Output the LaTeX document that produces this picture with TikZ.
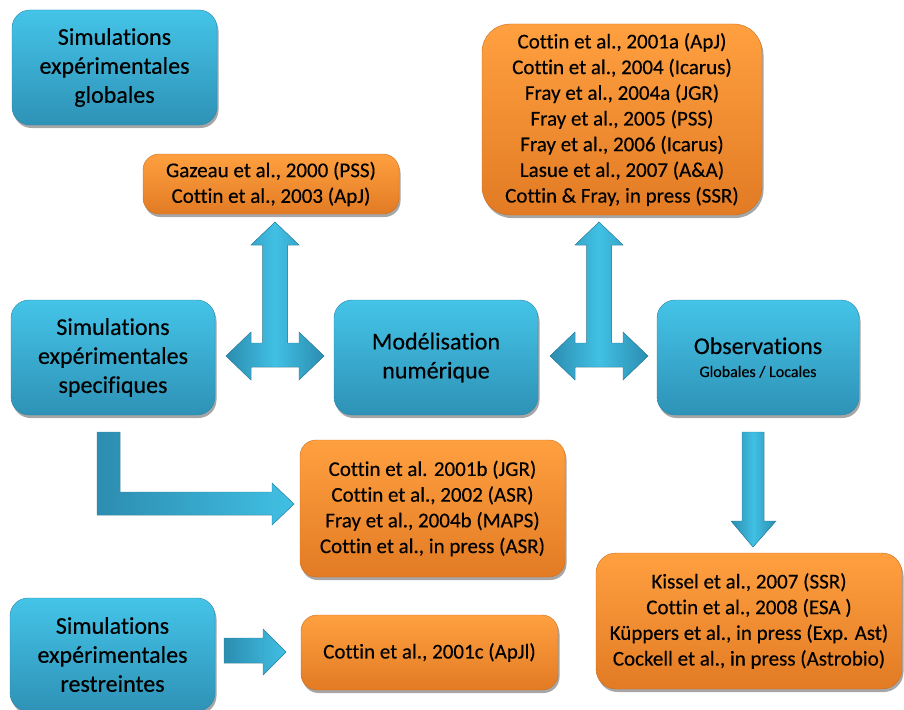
\documentclass[tikz,border=0pt]{standalone}
\usepackage{fontspec}
\setmainfont{Carlito}[FakeBold=0.3, Ligatures={NoCommon}]
\usetikzlibrary{shadows}

\definecolor{bluetop}{HTML}{44C4E8}
\definecolor{bluemid}{HTML}{38B0D6}
\definecolor{bluebot}{HTML}{2E92B6}
\definecolor{bluedge}{HTML}{2A86A8}
\definecolor{orangetop}{HTML}{FFA040}
\definecolor{orangemid}{HTML}{F99431}
\definecolor{orangebot}{HTML}{E27B24}
\definecolor{orangedge}{HTML}{CC6E1E}
\definecolor{arrowlight}{HTML}{40C0E4}
\definecolor{arrowdark}{HTML}{2C8DB0}

\begin{document}
\begin{tikzpicture}[x=1pt,y=-1pt,
  boxshadow/.style={drop shadow={shadow xshift=1.5pt,shadow yshift=-3pt,opacity=.35,fill=black}},
  bluebox/.style={rectangle, rounded corners=18pt, top color=bluetop, middle color=bluemid,
    bottom color=bluebot, draw=bluedge, line width=0.4pt, align=center, inner sep=0pt,
    text=black, font=\fontsize{24}{29}\selectfont, boxshadow},
  orangebox/.style={rectangle, rounded corners=16pt, top color=orangetop, middle color=orangemid,
    bottom color=orangebot, draw=orangedge, line width=0.4pt, align=center, inner sep=0pt,
    text=black, font=\fontsize{21}{25.7}\selectfont, boxshadow},
  blockarrow/.style={draw=bluedge, line width=0.4pt, line join=miter},
  varrow/.style={blockarrow, left color=arrowdark, right color=arrowdark, middle color=arrowlight},
  harrow/.style={blockarrow, left color=arrowdark, right color=arrowlight},
]
\useasboundingbox (0,0) rectangle (904,709);

% blue boxes: the research approaches
\node[bluebox, minimum width=205pt, minimum height=115pt] (glob) at (114.5,67.5)
  {Simulations\\expérimentales\\globales};
\node[bluebox, minimum width=204pt, minimum height=115pt] (spec) at (113,357.5)
  {Simulations\\expérimentales\\specifiques};
\node[bluebox, minimum width=204pt, minimum height=115pt] (model) at (436,357.5)
  {Modélisation\\numérique};
\node[bluebox, minimum width=202pt, minimum height=115pt] (obs) at (758,357.5)
  {Observations\\[-6pt]{\fontsize{16}{18}\selectfont Globales / Locales}};
\node[bluebox, minimum width=205pt, minimum height=113pt] (restr) at (112.5,654.5)
  {Simulations\\expérimentales\\restreintes};

% orange boxes: the publications
\node[orangebox, minimum width=256pt, minimum height=60pt] (gaz) at (271,184)
  {Gazeau et al., 2000 (PSS)\\Cottin et al., 2003 (ApJ)};
\node[orangebox, rounded corners=28pt, minimum width=280pt, minimum height=191pt] (obsref) at (622,119.5)
  {Cottin et al., 2001a (ApJ)\\Cottin et al., 2004 (Icarus)\\Fray et al., 2004a (JGR)\\Fray et al., 2005 (PSS)\\Fray et al., 2006 (Icarus)\\Lasue et al., 2007 (A\&A)\\Cottin \& Fray, in press (SSR)};
\node[orangebox, minimum width=265pt, minimum height=137pt] (specref) at (432.5,508.5)
  {Cottin et al. 2001b (JGR)\\Cottin et al., 2002 (ASR)\\Fray et al., 2004b (MAPS)\\Cottin et al., in press (ASR)};
\node[orangebox, minimum width=257pt, minimum height=75pt] (restrref) at (429.5,652.5)
  {Cottin et al., 2001c (ApJl)};
\node[orangebox, rounded corners=20pt, minimum width=306pt, minimum height=136pt] (kis) at (749,621)
  {Kissel et al., 2007 (SSR)\\Cottin et al., 2008 (ESA )\\Küppers et al., in press (Exp. Ast)\\Cockell et al., in press (Astrobio)};

% T-shaped block arrows (up + left/right)
\foreach \cx in {275,599}{
  \fill[varrow, shift={(\cx,0)}]
    (0,222) -- (24,245) -- (12.5,245) -- (12.5,343) -- (24,343) -- (24,332) -- (49,356)
    -- (24,380) -- (24,367) -- (-24,367) -- (-24,380) -- (-49,356) -- (-24,332)
    -- (-24,343) -- (-12.5,343) -- (-12.5,245) -- (-24,245) -- cycle;
}

% down arrow from the observations
\fill[varrow] (742,432) -- (764,432) -- (764,521) -- (776,521) -- (753,547)
  -- (731,521) -- (742,521) -- cycle;

% L-shaped arrow from the specific simulations
\fill[harrow] (97,432) -- (120,432) -- (120,492) -- (272,492) -- (272,483)
  -- (294,504) -- (272,525) -- (272,515) -- (97,515) -- cycle;

% small arrow from the restricted simulations
\fill[harrow] (224,638) -- (263,638) -- (263,629) -- (286,652) -- (263,675)
  -- (263,663) -- (224,663) -- cycle;
\end{tikzpicture}
\end{document}
